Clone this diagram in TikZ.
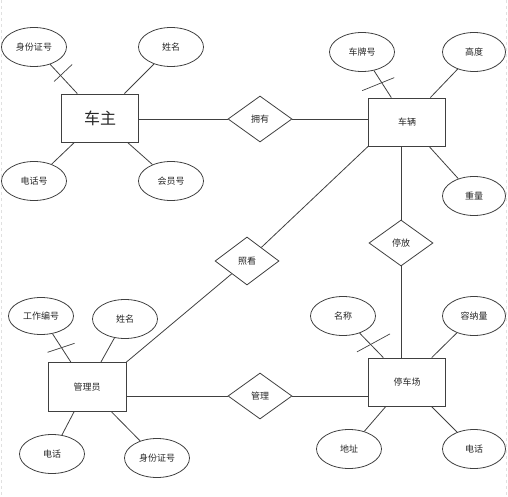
\documentclass[tikz,border=0pt]{standalone}
\usepackage{fontspec}
\newfontfamily\cjk{Noto Sans CJK SC}
\usetikzlibrary{shapes.geometric,calc}

\begin{document}
\begin{tikzpicture}[x=1pt,y=-1pt,line width=0.8pt,
  every node/.style={font=\cjk\fontsize{9}{10}\selectfont,text=black!85},
  entity/.style={draw=black!75,rectangle,minimum width=77pt,minimum height=48pt,inner sep=0pt},
  attr/.style={draw=black!75,ellipse,minimum width=65pt,minimum height=39pt,inner sep=0pt},
  rel/.style={draw=black!75,diamond,minimum width=64pt,minimum height=46pt,inner sep=0pt},
  link/.style={draw=black!75}]

\tikzset{keymark/.style={draw=black!75,line width=0.7pt}}

\useasboundingbox (0,0) rectangle (508,497);
\draw[black!12,dashed,line width=0.5pt] (1,0) -- (1,497) (506,0) -- (506,497);

% entites
\node[entity,font=\cjk\fontsize{16}{18}\selectfont] (owner) at (100,118) {车主};
\node[entity] (car) at (407,122) {车辆};
\node[entity,minimum width=78pt,minimum height=49pt] (mgr) at (87,387) {管理员};
\node[entity] (lot) at (407,382) {停车场};

% relations
\node[rel] (own) at (260,119) {拥有};
\node[rel] (park) at (401,243) {停放};
\node[rel,minimum height=48pt] (watch) at (247,261) {照看};
\node[rel] (manage) at (260,396) {管理};

% attributs du proprietaire
\node[attr] (oid) at (34,47) {身份证号};
\node[attr] (oname) at (171,47) {姓名};
\node[attr] (otel) at (34,181) {电话号};
\node[attr] (omem) at (171,181) {会员号};

% attributs du vehicule
\node[attr] (plate) at (362,52) {车牌号};
\node[attr,minimum width=63pt] (height) at (474,52) {高度};
\node[attr,minimum width=63pt] (weight) at (474,196) {重量};

% attributs du gestionnaire
\node[attr,minimum height=37pt] (mid) at (41,316) {工作编号};
\node[attr] (mname) at (125,319) {姓名};
\node[attr] (mtel) at (52,454) {电话};
\node[attr] (mpid) at (157,458) {身份证号};

% attributs du parking
\node[attr] (lname) at (343,316) {名称};
\node[attr,minimum width=63pt] (lcap) at (474,316) {容纳量};
\node[attr] (laddr) at (349,449) {地址};
\node[attr,minimum width=63pt] (ltel) at (474,449) {电话};

% liens attributs
\draw[link] (oid) -- coordinate[pos=0.38] (k1) (owner);
\draw[link] (oname) -- (owner);
\draw[link] (otel) -- (owner);
\draw[link] (omem) -- (owner);
\draw[link] (plate) -- coordinate[pos=0.45] (k2) (car);
\draw[link] (height) -- (car);
\draw[link] (weight) -- (car);
\draw[link] (mid) -- coordinate[pos=0.49] (k3) (mgr);
\draw[link] (mname) -- (mgr);
\draw[link] (mtel) -- (mgr);
\draw[link] (mpid) -- (mgr);
\draw[link] (lname) -- coordinate[pos=0.46] (k4) (lot);
\draw[link] (lcap) -- (lot);
\draw[link] (laddr) -- (lot);
\draw[link] (ltel) -- (lot);

% cles
\draw[keymark] ([shift={(-6.3,6)}]k1) -- ([shift={(11.7,-11)}]k1);
\draw[keymark] ([shift={(-19.5,7.9)}]k2) -- ([shift={(12.5,-5.1)}]k2);
\draw[keymark] ([shift={(-13.9,4.7)}]k3) -- ([shift={(13.1,-4.3)}]k3);
\draw[keymark] ([shift={(-13.6,7.5)}]k4) -- ([shift={(19.4,-10.5)}]k4);

% liens relations
\draw[link] (own) -- (own -| owner.east);
\draw[link] (own) -- (own -| car.west);
\draw[link] (park) -- (park |- car.south);
\draw[link] (park) -- (park |- lot.north);
\draw[link] (car.south west) -- (watch);
\draw[link] (watch) -- (mgr.north east);
\draw[link] (manage) -- (manage -| mgr.east);
\draw[link] (manage) -- (manage -| lot.west);
\end{tikzpicture}
\end{document}
